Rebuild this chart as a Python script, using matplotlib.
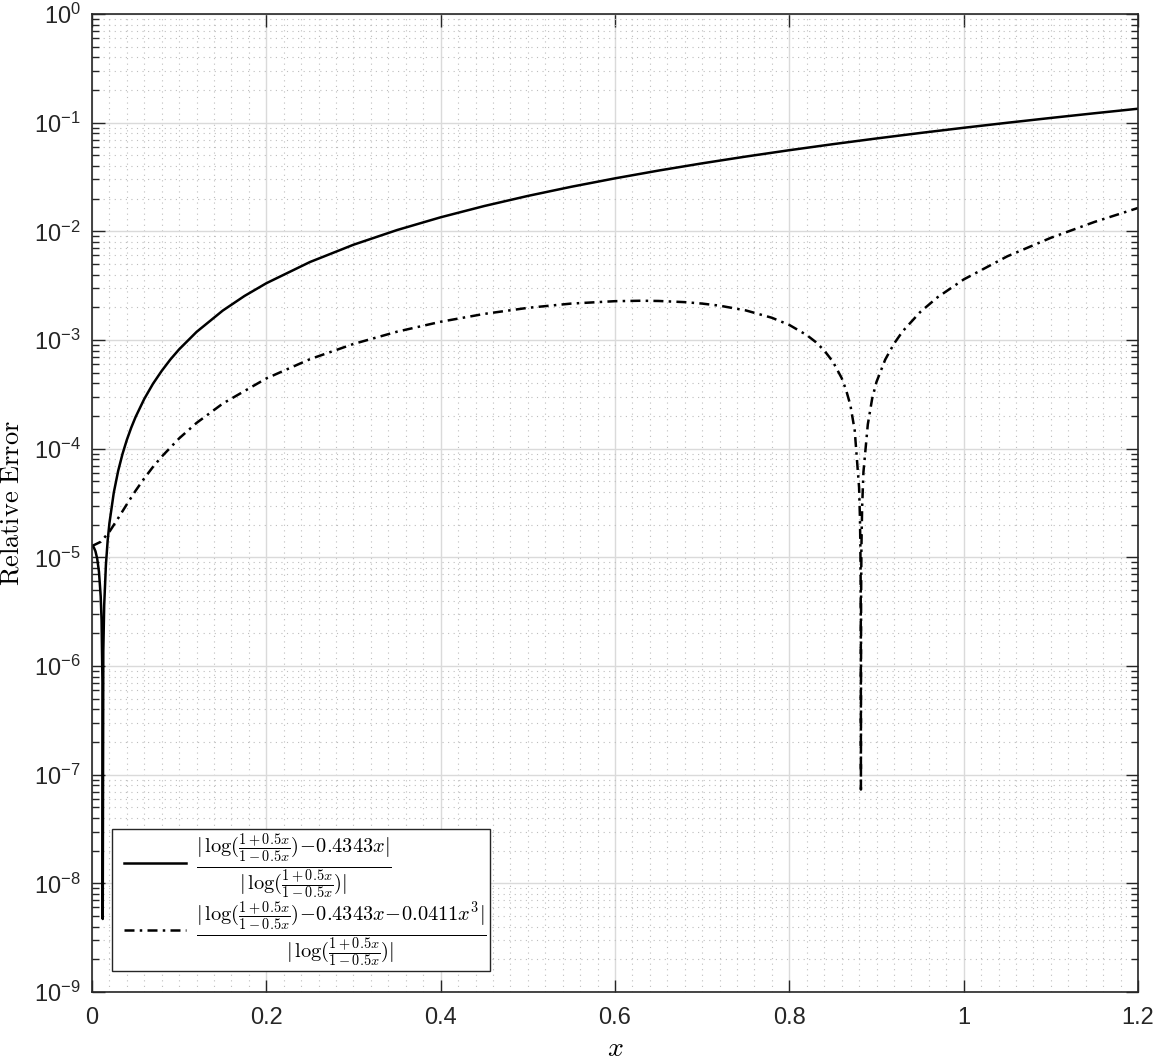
import math
import matplotlib
matplotlib.use("Agg")
import matplotlib.pyplot as plt
from matplotlib.lines import Line2D
from matplotlib.legend_handler import HandlerLine2D
from matplotlib.ticker import FixedLocator, LogLocator, FuncFormatter, NullFormatter

plt.rcParams['font.family'] = ['Liberation Sans', 'DejaVu Sans']
plt.rcParams['mathtext.fontset'] = 'cm'

# relative error of the linear approximation (solid line)
x_lin = [0.0, 0.002, 0.004, 0.006, 0.008, 0.010, 0.011, 0.012, 0.01235, 0.013,
         0.014, 0.016, 0.018, 0.020, 0.025, 0.030, 0.035, 0.040, 0.045, 0.050,
         0.060, 0.070, 0.080, 0.090, 0.100, 0.120, 0.150, 0.175, 0.200, 0.250,
         0.300, 0.350, 0.400, 0.450, 0.500, 0.550, 0.600, 0.650, 0.700, 0.750,
         0.800, 0.850, 0.900, 0.950, 1.000, 1.050, 1.100, 1.150, 1.200]
err_lin = [1.27e-5, 1.24e-5, 1.137e-5, 9.71e-6, 7.38e-6, 4.38e-6, 2.63e-6, 7.1e-7, 4.7e-9, 1.37e-6,
           3.62e-6, 8.6e-6, 1.43e-5, 2.06e-5, 3.94e-5, 6.23e-5, 8.94e-5, 1.206e-4, 1.56e-4, 1.956e-4,
           2.873e-4, 3.96e-4, 5.20e-4, 6.63e-4, 8.21e-4, 1.188e-3, 1.865e-3, 2.544e-3, 3.33e-3, 5.218e-3,
           7.53e-3, 1.028e-2, 1.347e-2, 1.710e-2, 2.118e-2, 2.573e-2, 3.074e-2, 3.625e-2, 4.225e-2, 4.876e-2,
           5.581e-2, 6.341e-2, 7.157e-2, 8.035e-2, 8.975e-2, 9.981e-2, 1.1057e-1, 1.2207e-1, 1.3437e-1]

# relative error of the cubic approximation (dash-dot line)
x_cub = [0.0, 0.01, 0.02, 0.03, 0.04, 0.05, 0.06, 0.07, 0.08, 0.10,
         0.12, 0.15, 0.20, 0.25, 0.30, 0.35, 0.40, 0.45, 0.50, 0.55,
         0.60, 0.63, 0.65, 0.68, 0.70, 0.72, 0.75, 0.78, 0.80, 0.82,
         0.83, 0.84, 0.85, 0.86, 0.865, 0.87, 0.875, 0.880, 0.881, 0.8815,
         0.8818, 0.8820, 0.8821, 0.8823, 0.8827, 0.8835, 0.885, 0.89, 0.895, 0.90,
         0.91, 0.92, 0.93, 0.95, 0.97, 1.00, 1.05, 1.10, 1.15, 1.20]
err_cub = [1.27e-5, 1.39e-5, 1.72e-5, 2.29e-5, 3.08e-5, 4.10e-5, 5.34e-5, 6.80e-5, 8.45e-5, 1.244e-4,
           1.727e-4, 2.60e-4, 4.43e-4, 6.66e-4, 9.20e-4, 1.193e-3, 1.472e-3, 1.739e-3, 1.977e-3, 2.165e-3,
           2.277e-3, 2.298e-3, 2.287e-3, 2.231e-3, 2.164e-3, 2.070e-3, 1.873e-3, 1.602e-3, 1.376e-3, 1.110e-3,
           9.62e-4, 8.02e-4, 6.31e-4, 4.47e-4, 3.49e-4, 2.52e-4, 1.47e-4, 4.4e-5, 2.3e-5, 1.24e-5,
           6.3e-6, 2.1e-6, 7.3e-8, 4.2e-6, 1.26e-5, 2.9e-5, 6.1e-5, 1.67e-4, 2.89e-4, 4.12e-4,
           6.61e-4, 9.23e-4, 1.203e-3, 1.805e-3, 2.473e-3, 3.608e-3, 5.89e-3, 8.72e-3, 1.22e-2, 1.641e-2]

lbl_lin = r'$\frac{|\,\log(\frac{1+0.5x}{1-0.5x})\!-\!0.4343x|}{|\,\log(\frac{1+0.5x}{1-0.5x})|}$'
lbl_cub = r'$\frac{|\,\log(\frac{1+0.5x}{1-0.5x})\!-\!0.4343x\!-\!0.0411x^3|}{|\,\log(\frac{1+0.5x}{1-0.5x})|}$'

fig = plt.figure(figsize=(11.57, 10.61), dpi=100)
ax = fig.add_axes([0.0795, 0.065, 0.9041, 0.9218])

ax.semilogy(x_lin, err_lin, color='k', lw=1.8, label=lbl_lin)
ax.semilogy(x_cub, err_cub, color='k', lw=1.8, linestyle=(0, (4.0, 2.1, 1.0, 2.1)), label=lbl_cub)

ax.set_xlim(0, 1.2)
ax.set_ylim(1e-9, 1)

ax.xaxis.set_major_locator(FixedLocator([0, 0.2, 0.4, 0.6, 0.8, 1.0, 1.2]))
ax.xaxis.set_minor_locator(FixedLocator([i * 0.02 for i in range(61)]))
ax.xaxis.set_major_formatter(FuncFormatter(lambda v, p: '%g' % v))
ax.yaxis.set_major_locator(LogLocator(base=10, numticks=20))
ax.yaxis.set_minor_locator(LogLocator(base=10, subs=range(2, 10), numticks=20))
ax.yaxis.set_minor_formatter(NullFormatter())
ax.yaxis.set_major_formatter(FuncFormatter(lambda v, p: r'$\mathregular{10^{%d}}$' % round(math.log10(v))))

ax.grid(which='major', color='#dadada', lw=1.0, linestyle='-')
ax.grid(which='minor', color='#bdbdbd', lw=0.8, linestyle=(0, (1, 4)))
ax.set_axisbelow(True)

ax.tick_params(which='both', direction='in', top=True, right=True, colors='#262626', labelsize=17)
ax.tick_params(which='major', length=9, width=1.0)
ax.tick_params(axis='y', which='minor', length=5, width=1.0)
ax.tick_params(axis='x', which='minor', length=0)
ax.tick_params(axis='x', pad=11)
ax.tick_params(axis='y', pad=8)
for s in ax.spines.values():
    s.set_color('#262626')
    s.set_linewidth(1.2)

ax.set_xlabel(r'$x$', fontsize=20)
ax.xaxis.label.set_verticalalignment('center')
ax.xaxis.set_label_coords(0.5, -0.058)
ax.set_ylabel(r'$\mathrm{Relative\ Error}$', fontsize=19)
ax.yaxis.label.set_verticalalignment('center')
ax.yaxis.set_label_coords(-0.0765, 0.5)

leg = ax.legend(loc='lower left', bbox_to_anchor=(0.019, 0.021), fontsize=21,
                fancybox=False, framealpha=1, edgecolor='#262626', handlelength=2.45,
                borderpad=0.1, labelspacing=-0.08, handletextpad=0.34, borderaxespad=0,
                handler_map={Line2D: HandlerLine2D(xpad=0.3)})
leg.get_frame().set_linewidth(1.0)

fig.savefig('out.png', dpi=100)
